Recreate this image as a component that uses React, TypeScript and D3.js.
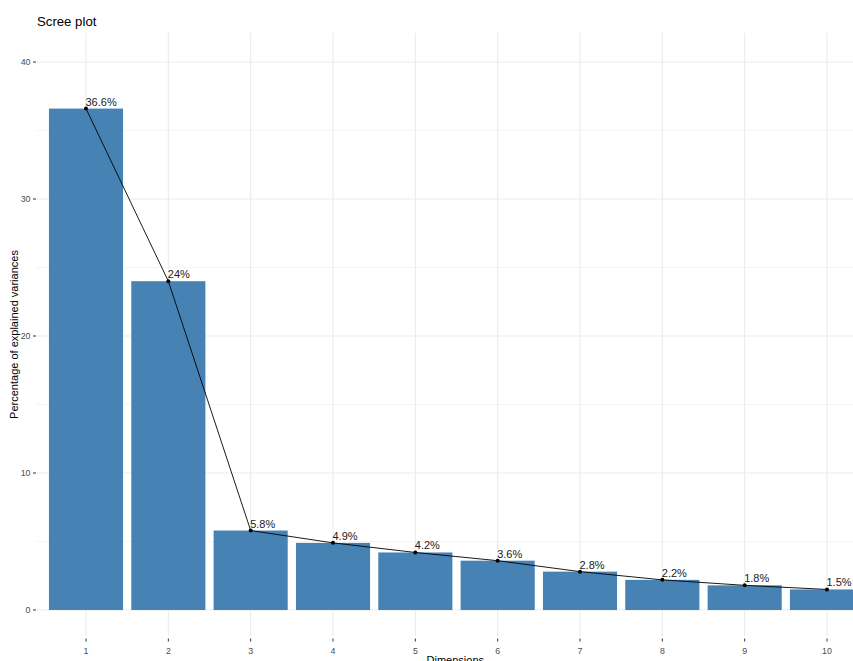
import React from "react";
import * as d3 from "d3";

const dims = [1, 2, 3, 4, 5, 6, 7, 8, 9, 10];
const variances = [36.6, 24, 5.8, 4.9, 4.2, 3.6, 2.8, 2.2, 1.8, 1.5];
const labels = ["36.6%", "24%", "5.8%", "4.9%", "4.2%", "3.6%", "2.8%", "2.2%", "1.8%", "1.5%"];
const yMajor = [0, 10, 20, 30, 40];
const yMinor = [5, 15, 25, 35];

export default function App() {
  const W = 853, H = 661;
  const panelLeft = 36.6, panelTop = 33, panelBottom = 636;
  const step = (827 - 86) / 9;
  const x = d3.scaleLinear().domain([0.4, 10.6]).range([panelLeft, panelLeft + 10.2 * step]);
  const y = d3.scaleLinear().domain([0, 40]).range([610, 62]);
  const bw = 0.9 * step;
  const line = d3.line<number>().x((_, i) => x(dims[i])).y((v) => y(v));
  const font = "Liberation Sans, Arial, sans-serif";
  return (
    <svg width={W} height={H} style={{ position: "absolute", left: 0, top: 0 }} fontFamily={font}>
      <rect width={W} height={H} fill="#fff" />
      {yMinor.map((v) => (
        <line key={"mi" + v} x1={panelLeft} x2={W} y1={y(v)} y2={y(v)} stroke="#f2f2f2" strokeWidth={0.8} />
      ))}
      {yMajor.map((v) => (
        <line key={"ma" + v} x1={panelLeft} x2={W} y1={y(v)} y2={y(v)} stroke="#ebebeb" strokeWidth={1.1} />
      ))}
      {dims.map((d) => (
        <line key={"vx" + d} x1={x(d)} x2={x(d)} y1={panelTop} y2={panelBottom} stroke="#ebebeb" strokeWidth={1.1} />
      ))}
      {variances.map((v, i) => (
        <rect key={"b" + i} x={x(dims[i]) - bw / 2} y={y(v)} width={bw} height={y(0) - y(v)} fill="#4682B4" />
      ))}
      <path d={line(variances) || ""} fill="none" stroke="#000" strokeWidth={0.9} />
      {variances.map((v, i) => (
        <circle key={"p" + i} cx={x(dims[i])} cy={y(v)} r={2} fill="#000" />
      ))}
      {variances.map((v, i) => (
        <text key={"t" + i} x={x(dims[i]) - 0.5} y={y(v) - 3} fontSize={11} fill="#1a1a1a">
          {labels[i]}
        </text>
      ))}
      {yMajor.map((v) => (
        <g key={"yt" + v}>
          <line x1={33} x2={36} y1={y(v)} y2={y(v)} stroke="#333" strokeWidth={1} />
          <text x={30.5} y={y(v)} dy="0.35em" fontSize={8.8} fill="#4d4d4d" textAnchor="end">
            {v}
          </text>
        </g>
      ))}
      {dims.map((d) => (
        <g key={"xt" + d}>
          <line x1={x(d)} x2={x(d)} y1={638.5} y2={641.5} stroke="#333" strokeWidth={1} />
          <text x={x(d)} y={651} dy="0.35em" fontSize={8.8} fill="#4d4d4d" textAnchor="middle">
            {d}
          </text>
        </g>
      ))}
      <text x={(panelLeft + 876) / 2 - 1} y={664} fontSize={11} fill="#000" textAnchor="middle">
        Dimensions
      </text>
      <text transform={`translate(17.5,${(panelTop + panelBottom) / 2}) rotate(-90)`} fontSize={11} fill="#000" textAnchor="middle">
        Percentage of explained variances
      </text>
      <text x={37} y={26} fontSize={13.2} fill="#000">
        Scree plot
      </text>
    </svg>
  );
}
